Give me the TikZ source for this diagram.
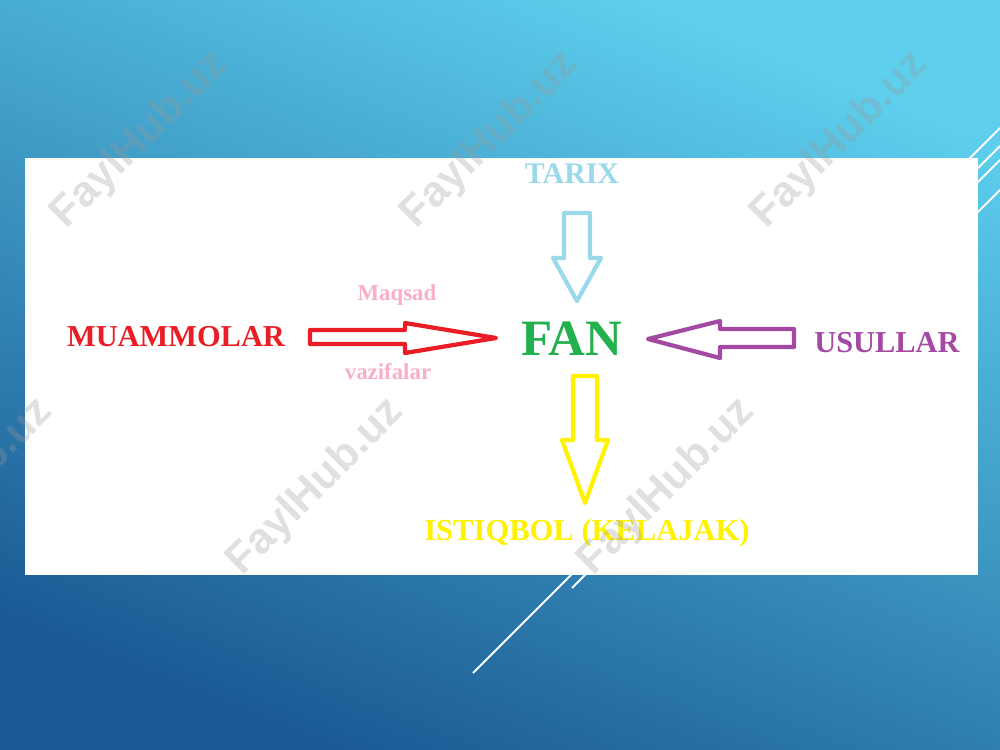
\documentclass[tikz,border=0pt]{standalone}
\usepackage{fontspec}
\setmainfont{Liberation Serif}
\newfontfamily\wmfont{Liberation Sans}
\usepackage{tikz}
\usetikzlibrary{calc}

\definecolor{slidelight}{HTML}{5ED0EE}
\definecolor{slidedark}{HTML}{1A5A94}
\definecolor{muamred}{HTML}{EA1C24}
\definecolor{tarixblue}{HTML}{99D9EA}
\definecolor{fangreen}{HTML}{22B14C}
\definecolor{usulpurple}{HTML}{A349A4}
\definecolor{kelyellow}{HTML}{FFF200}
\definecolor{maqpink}{HTML}{F9AFC8}

\begin{document}
\begin{tikzpicture}[x=0.02cm,y=-0.02cm,
    word/.style={font=\bfseries\fontsize{17.3}{20}\selectfont,anchor=base,inner sep=0pt},
    smallword/.style={font=\bfseries\fontsize{13}{15}\selectfont,anchor=base,inner sep=0pt,text=maqpink},
    blockarrow/.style={line width=2.4pt,line join=round},
    deco/.style={white,line width=1.1pt},
    wmark/.style={font=\wmfont\bfseries\fontsize{24.5}{28}\selectfont,rotate=45,text=gray!80,text opacity=0.3}]
    \useasboundingbox (0,0) rectangle (1000,750);
    % slide background
    \shade[top color=slidelight,bottom color=slidedark,shading angle=-22] (0,0) rectangle (1000,750);
    \draw[deco] (1000,128) -- (900,228);
    \draw[deco] (1000,146) -- (473,673);
    \draw[deco] (1000,160) -- (572,588);
    \draw[deco] (1000,190) -- (900,290);
    \fill[white] (25,158) rectangle (978,575);

    % words
    \node[word,text=muamred] (muammo) at (176,346) {MUAMMOLAR};
    \node[word,text=tarixblue,font=\bfseries\fontsize{17}{20}\selectfont] (tarix) at (572,183) {TARIX};
    \node[word,text=fangreen,font=\bfseries\fontsize{29}{32}\selectfont] (fan) at (572,355) {FAN};
    \node[word,text=usulpurple] (usul) at (887,352) {USULLAR};
    \node[word,text=kelyellow,font=\bfseries\fontsize{17.4}{20}\selectfont] (kelajak) at (587,540) {ISTIQBOL (KELAJAK)};
    \node[smallword] (maqsad) at (397,300) {Maqsad};
    \node[smallword] (vazifa) at (388,379) {vazifalar};

    % block arrows
    \draw[blockarrow,muamred] (310,330) -- (405,330) -- (405,323) -- (496,338)
        -- (405,353) -- (405,344) -- (310,344) -- cycle;
    \draw[blockarrow,tarixblue] (564,213) -- (590,213) -- (590,258) -- (601,258)
        -- (577,301) -- (553,258) -- (564,258) -- cycle;
    \draw[blockarrow,usulpurple] (794,329) -- (720,329) -- (720,321) -- (648,339)
        -- (720,358) -- (720,347) -- (794,347) -- cycle;
    \draw[blockarrow,kelyellow] (573,376) -- (597,376) -- (597,440) -- (608,440)
        -- (585,503) -- (562,440) -- (573,440) -- cycle;

    % watermark
    \foreach \wx/\wy in {140/140,490/140,840/140,-35/487,316/487,667/487}
        \node[wmark] at (\wx,\wy) {FaylHub.uz};
\end{tikzpicture}
\end{document}
